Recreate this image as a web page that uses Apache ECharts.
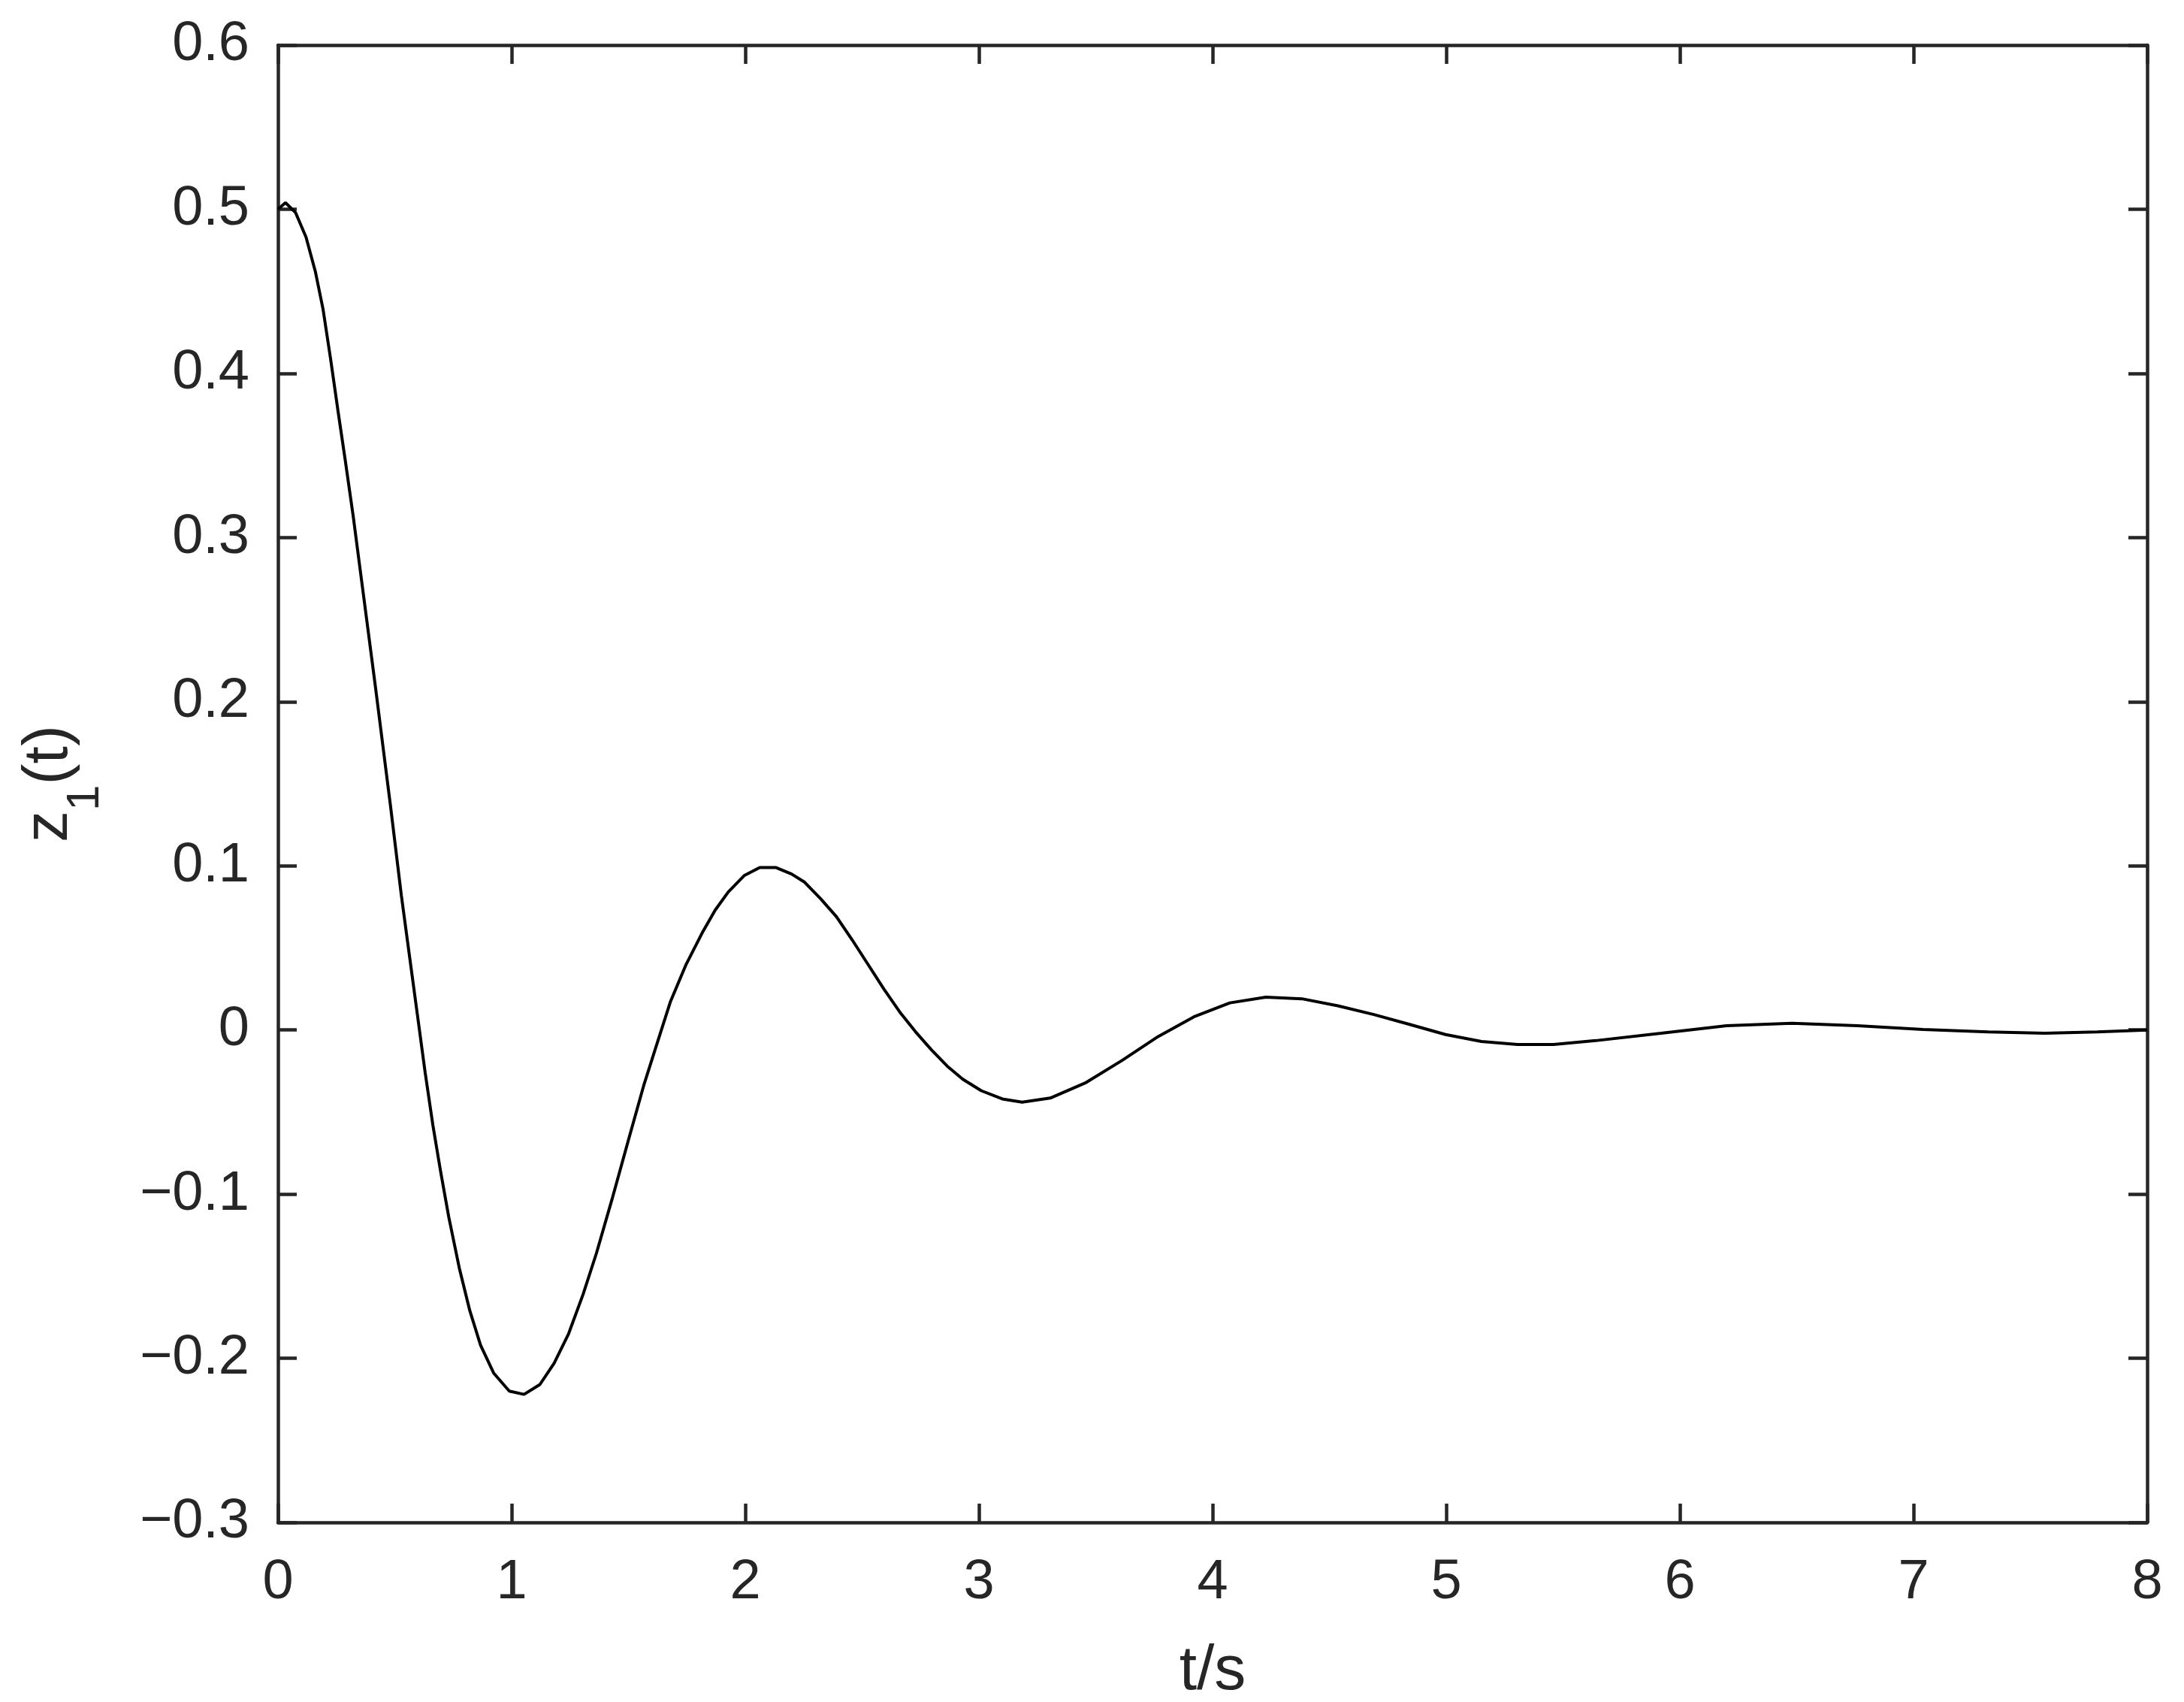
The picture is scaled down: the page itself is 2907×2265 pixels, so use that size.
<!DOCTYPE html>
<html>
<head>
<meta charset="utf-8">
<script src="https://cdn.jsdelivr.net/npm/echarts@6/dist/echarts.min.js"></script>
<style>
html,body{margin:0;padding:0;background:#fff;}
#chart{width:2907px;height:2265px;}
</style>
</head>
<body>
<div id="chart"></div>
<script>
// time samples (s)
const tValues = [0, 0.032, 0.075, 0.12, 0.16, 0.193, 0.225, 0.257, 0.289, 0.322, 0.354, 0.386, 0.418, 0.45, 0.482,
  0.528, 0.562, 0.596, 0.63, 0.663, 0.697, 0.731, 0.776, 0.821, 0.867, 0.923, 0.99, 1.053, 1.121, 1.182, 1.244,
  1.306, 1.363, 1.43, 1.498, 1.565, 1.614, 1.679, 1.747, 1.815, 1.871, 1.927, 1.995, 2.062, 2.13, 2.198, 2.254,
  2.322, 2.39, 2.457, 2.525, 2.593, 2.661, 2.728, 2.796, 2.864, 2.931, 3.01, 3.1, 3.185, 3.305, 3.459, 3.613,
  3.767, 3.92, 4.074, 4.228, 4.382, 4.536, 4.69, 4.843, 4.997, 5.151, 5.305, 5.459, 5.64, 5.92, 6.2, 6.48, 6.76,
  7.04, 7.32, 7.562, 7.786, 8.0];
// z1(t) values
const zValues = [0.500, 0.504, 0.498, 0.483, 0.462, 0.439, 0.409, 0.377, 0.346, 0.313, 0.278, 0.243, 0.208, 0.172, 0.136,
  0.082, 0.046, 0.010, -0.026, -0.058, -0.087, -0.114, -0.145, -0.171, -0.192, -0.209, -0.220, -0.222, -0.216, -0.203, -0.185,
  -0.161, -0.136, -0.103, -0.068, -0.034, -0.012, 0.017, 0.040, 0.059, 0.073, 0.084, 0.094, 0.099, 0.099, 0.095, 0.090,
  0.080, 0.069, 0.055, 0.040, 0.025, 0.011, -0.001, -0.012, -0.022, -0.030, -0.037, -0.042, -0.044, -0.0415, -0.032, -0.0185,
  -0.004, 0.008, 0.0165, 0.020, 0.019, 0.0147, 0.0094, 0.0034, -0.0028, -0.007, -0.0088, -0.0088, -0.0065, -0.002, 0.0026, 0.0041, 0.0026,
  0.0003, -0.0012, -0.002, -0.0012, 0.0];
const xTicks = [0, 1, 2, 3, 4, 5, 6, 7, 8];
const yTicks = [-0.3, -0.2, -0.1, 0, 0.1, 0.2, 0.3, 0.4, 0.5, 0.6];

const AX = '#262626';
const FONT = '"Liberation Sans", Arial, Helvetica, sans-serif';
const fmtY = v => (Math.round(v * 10) / 10).toString().replace('-', '\u2212');

const chart = echarts.init(document.getElementById('chart'), null, {renderer: 'canvas'});
const baseAxis = {
  axisLine: {show: true, onZero: false, lineStyle: {color: AX, width: 4.5}},
  axisTick: {show: true, inside: true, length: 25, lineStyle: {color: AX, width: 4.5}},
  splitLine: {show: false}
};
chart.setOption({
  animation: false,
  backgroundColor: '#fff',
  grid: {left: 370, right: 49, top: 60, bottom: 239, containLabel: false, outerBoundsMode: 'none'},
  xAxis: [
    Object.assign({}, baseAxis, {
      type: 'value', position: 'bottom', min: xTicks[0], max: xTicks[xTicks.length - 1], interval: 1,
      axisLabel: {show: true, color: AX, fontSize: 74, fontFamily: FONT, margin: 44},
      name: 't/s', nameLocation: 'middle', nameGap: 157,
      nameTextStyle: {color: AX, fontSize: 84, fontFamily: FONT}
    }),
    Object.assign({}, baseAxis, {
      type: 'value', position: 'top', min: xTicks[0], max: xTicks[xTicks.length - 1], interval: 1,
      axisLabel: {show: false}
    })
  ],
  yAxis: [
    Object.assign({}, baseAxis, {
      type: 'value', position: 'left', min: yTicks[0], max: yTicks[yTicks.length - 1], interval: 0.1,
      axisLabel: {show: true, color: AX, fontSize: 74, fontFamily: FONT, margin: 38, formatter: fmtY},
      name: '{a|z}{b|1}{a|(t)}', nameLocation: 'middle', nameGap: 225,
      nameTextStyle: {
        color: AX, fontFamily: FONT,
        rich: {
          a: {fontSize: 84, lineHeight: 84, verticalAlign: 'top', color: AX, fontFamily: FONT},
          b: {fontSize: 62, lineHeight: 121, verticalAlign: 'bottom', color: AX, fontFamily: FONT}
        }
      }
    }),
    Object.assign({}, baseAxis, {
      type: 'value', position: 'right', min: yTicks[0], max: yTicks[yTicks.length - 1], interval: 0.1,
      axisLabel: {show: false}
    })
  ],
  series: [{
    type: 'line',
    xAxisIndex: 0, yAxisIndex: 0,
    data: tValues.map((t, i) => [t, zValues[i]]),
    showSymbol: false,
    smooth: false,
    lineStyle: {color: '#000', width: 4},
    clip: true
  }]
});
</script>
</body>
</html>
